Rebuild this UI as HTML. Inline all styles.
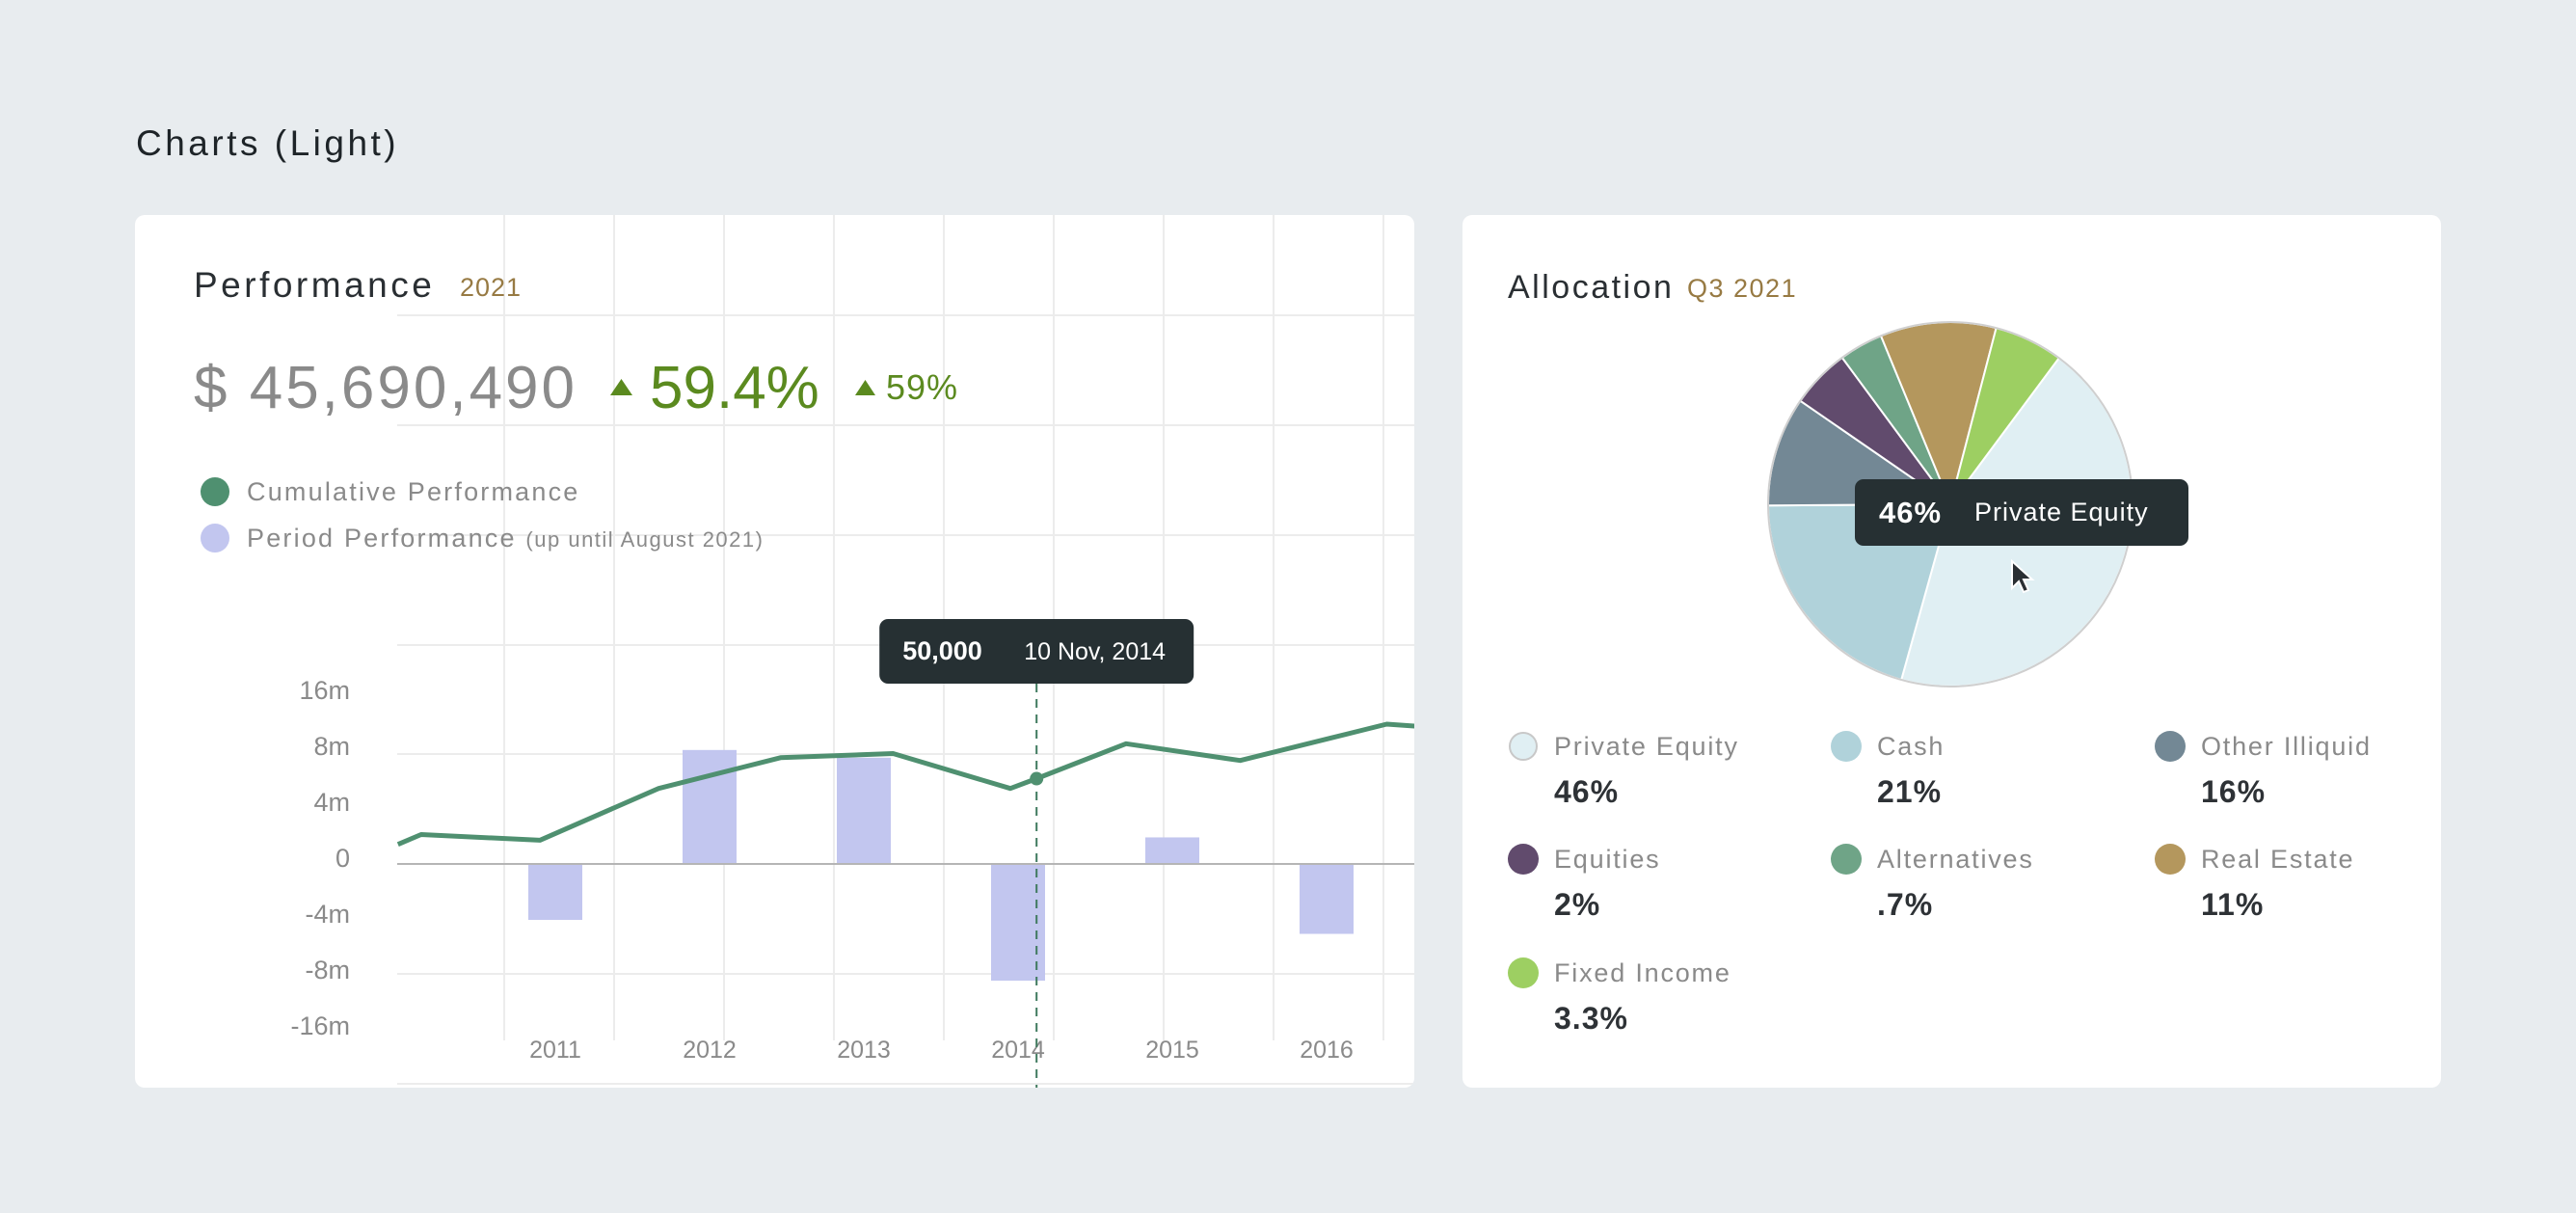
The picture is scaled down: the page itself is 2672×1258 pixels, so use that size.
<!DOCTYPE html>
<html><head><meta charset="utf-8">
<style>
html,body{margin:0;padding:0}
body{width:2672px;height:1258px;background:#e8ecef;position:relative;overflow:hidden;font-family:"Liberation Sans",sans-serif}
.card{position:absolute;background:#fff;border-radius:10px;overflow:hidden}
svg text{font-family:"Liberation Sans",sans-serif}
</style></head>
<body>
<div style="position:absolute;left:141px;top:128px;font-size:37px;color:#1e2428;letter-spacing:3.5px">Charts (Light)</div>

<div class="card" style="left:140px;top:223px;width:1327px;height:905px">
<svg id="perf" width="1327" height="905" viewBox="140 223 1327 905" style="position:absolute;left:0;top:0"></svg>
</div>

<div class="card" style="left:1517px;top:223px;width:1015px;height:905px">
<svg id="alloc" width="1015" height="905" viewBox="1517 223 1015 905" style="position:absolute;left:0;top:0"></svg>
</div>

<script>
// ---- Performance data ----
const years = ['2011','2012','2013','2014','2015','2016'];
const periodValues = [-4, 8.3, 7.6, -8.7, 1.9, -5];
const yTickLabels = ['16m','8m','4m','0','-4m','-8m','-16m'];
const yTickValues = [16, 8, 4, 0, -4, -8, -16];
const cumDates = [2009.98, 2010.13, 2010.9, 2011.67, 2012.46, 2013.19, 2013.95, 2014.12, 2014.7, 2015.44, 2016.39, 2016.59];
const cumValues = [1.4, 2.1, 1.7, 5.4, 7.6, 7.9, 5.4, 6.1, 9.2, 7.4, 12, 11.7];
const tooltipValue = '50,000';
const tooltipDate = '10 Nov, 2014';
const tooltipIndex = 7;

// ---- Allocation data ----
const allocNames = ['Private Equity','Cash','Other Illiquid','Equities','Alternatives','Real Estate','Fixed Income'];
const allocLabels = ['46%','21%','16%','2%','.7%','11%','3.3%'];
const allocShares = [159, 74, 35, 19, 14, 37, 22];
const allocColors = ['#e0eff3','#b0d2da','#738895','#614b6d','#6fa487','#b4975d','#9dcf62'];

const NS='http://www.w3.org/2000/svg';
function mk(parent, tag, attrs, text){
  const e=document.createElementNS(NS,tag);
  for(const k in attrs) e.setAttribute(k,attrs[k]);
  if(text!==undefined) e.textContent=text;
  parent.appendChild(e); return e;
}

const step=58;
function yScale(v){
  for(let i=0;i<yTickValues.length-1;i++){
    const a=yTickValues[i], b=yTickValues[i+1];
    if(v<=a && v>=b){ const t=(a-v)/(a-b); return 722+(i+t)*step; }
  }
  if(v>yTickValues[0]) return 722-(v-yTickValues[0])/8*step;
  return 722+(yTickValues.length-1)*step+(yTickValues[yTickValues.length-1]-v)/8*step;
}
function xScale(yr){ return 576+(yr-2011)*160; }

const P=document.getElementById('perf');
for(let i=0;i<9;i++){
  const x=523+i*114;
  const l=mk(P,'line',{x1:x,y1:223,x2:x,y2:1079,stroke:'#ececec','stroke-width':2});
  
  
}
[327,441,555,669,782,1010,1124].forEach(y=>{
  const l=mk(P,'line',{x1:412,y1:y,x2:1467,y2:y,stroke:'#ececec','stroke-width':2});
  
  
});
let t=mk(P,'text',{x:201,y:308,'font-size':37,fill:'#2a2f33','letter-spacing':3.5},'Performance');

t=mk(P,'text',{x:477,y:307,'font-size':27,fill:'#977a43','letter-spacing':1},'2021');

t=mk(P,'text',{x:201,y:423,'font-size':62,fill:'#8a8a8a','letter-spacing':3},'$ 45,690,490');

let tri=mk(P,'polygon',{points:'633,410 656,410 644.5,393',fill:'#5b8a1f'});

t=mk(P,'text',{x:674,y:423,'font-size':62,fill:'#5b8a1f'},'59.4%');

tri=mk(P,'polygon',{points:'887,410 908,410 897.5,394',fill:'#5b8a1f'});

t=mk(P,'text',{x:919,y:414,'font-size':36,fill:'#5b8a1f','letter-spacing':1},'59%');

let c=mk(P,'circle',{cx:223,cy:510,r:15,fill:'#4f9070'});

t=mk(P,'text',{x:256,y:519,'font-size':27,fill:'#8a8a8a','letter-spacing':2.2},'Cumulative Performance');

c=mk(P,'circle',{cx:223,cy:558,r:15,fill:'#c2c6ef'});

t=mk(P,'text',{x:256,y:567,'font-size':27,fill:'#8a8a8a','letter-spacing':2.2},'Period Performance ');

mk(t,'tspan',{'font-size':22,'letter-spacing':1.5},'(up until August 2021)');
yTickLabels.forEach((lab,i)=>{
  const tt=mk(P,'text',{x:363,y:yScale(yTickValues[i])+3,'font-size':27,fill:'#8a8a8a','text-anchor':'end'},lab);
  
  
});
years.forEach((yr,i)=>{
  const v=periodValues[i], cx=xScale(+yr);
  const y0=yScale(0), y1=yScale(v);
  const r=mk(P,'rect',{x:cx-28,y:Math.min(y0,y1),width:56,height:Math.abs(y1-y0),fill:'#c2c6ef'});
  
  
  const xl=mk(P,'text',{x:cx,y:1097,'font-size':25,fill:'#8a8a8a','text-anchor':'middle'},yr);
  
  
});
let z=mk(P,'line',{x1:412,y1:yScale(0),x2:1467,y2:yScale(0),stroke:'#b5b5b5','stroke-width':2});

const pts=cumDates.map((d,i)=>xScale(d).toFixed(1)+','+yScale(cumValues[i]).toFixed(1)).join(' ');
let pl=mk(P,'polyline',{points:pts,fill:'none',stroke:'#4f9070','stroke-width':5,'stroke-linejoin':'round'});

const hx=xScale(cumDates[tooltipIndex]), hy=yScale(cumValues[tooltipIndex]);
let dl=mk(P,'line',{x1:hx,y1:709,x2:hx,y2:1128,stroke:'#3f7a5e','stroke-width':2,'stroke-dasharray':'9,7'});

c=mk(P,'circle',{cx:hx,cy:hy,r:7,fill:'#4f9070'});

const tg=mk(P,'g',{});

mk(tg,'rect',{x:hx-163,y:642,width:326,height:67,rx:9,fill:'#263033'});
mk(tg,'text',{x:hx-139,y:684,'font-size':27,'font-weight':'bold',fill:'#fff'},tooltipValue);
mk(tg,'text',{x:hx-13,y:684,'font-size':25,fill:'#fff'},tooltipDate);

// ---- Allocation ----
const A=document.getElementById('alloc');
t=mk(A,'text',{x:1564,y:309,'font-size':34,fill:'#2a2f33','letter-spacing':2.5},'Allocation');

t=mk(A,'text',{x:1750,y:308,'font-size':27,fill:'#977a43','letter-spacing':1.5},'Q3 2021');

const pcx=2023,pcy=523,pr=189;
const total=allocShares.reduce((a,b)=>a+b,0);
let ang=36.6;
function pt(a){const r=(a-90)*Math.PI/180;return [pcx+pr*Math.cos(r),pcy+pr*Math.sin(r)];}
allocShares.forEach((s,i)=>{
  const a0=ang, a1=ang+s/total*360; ang=a1;
  const p0=pt(a0), p1=pt(a1), large=(a1-a0)>180?1:0;
  const d='M'+pcx+','+pcy+' L'+p0[0].toFixed(1)+','+p0[1].toFixed(1)+' A'+pr+','+pr+' 0 '+large+' 1 '+p1[0].toFixed(1)+','+p1[1].toFixed(1)+' Z';
  const p=mk(A,'path',{d:d,fill:allocColors[i],stroke:'#fff','stroke-width':2});
  
  
});
let ring=mk(A,'circle',{cx:pcx,cy:pcy,r:pr,fill:'none',stroke:'#cfcfcf','stroke-width':2});

const at=mk(A,'g',{});

mk(at,'rect',{x:1924,y:497,width:346,height:69,rx:9,fill:'#263033'});
mk(at,'text',{x:1949,y:542,'font-size':31,'font-weight':'bold',fill:'#fff','letter-spacing':1},'46%');
mk(at,'text',{x:2048,y:540,'font-size':27,fill:'#fff','letter-spacing':1},'Private Equity');
const cur=mk(A,'path',{d:'M2087,582 L2087,610 L2094,603 L2099,614 L2104,612 L2099,601 L2108,601 Z',fill:'#2a2f33',stroke:'#fff','stroke-width':2});

const colX=[1580,1915,2251], rowY=[774,891,1009];
allocNames.forEach((n,i)=>{
  const cx=colX[i%3], cy=rowY[Math.floor(i/3)];
  const g=mk(A,'g',{});
  
  
  mk(g,'circle',{cx:cx,cy:cy,r:i===0?14:16,fill:allocColors[i],stroke:i===0?'#c8c8c8':'none','stroke-width':2});
  mk(g,'text',{x:cx+32,y:cy+9,'font-size':27,fill:'#8a8a8a','letter-spacing':1.8},n);
  mk(g,'text',{x:cx+32,y:cy+58,'font-size':32,'font-weight':'bold',fill:'#2e3236','letter-spacing':1},allocLabels[i]);
});
</script>
</body></html>
